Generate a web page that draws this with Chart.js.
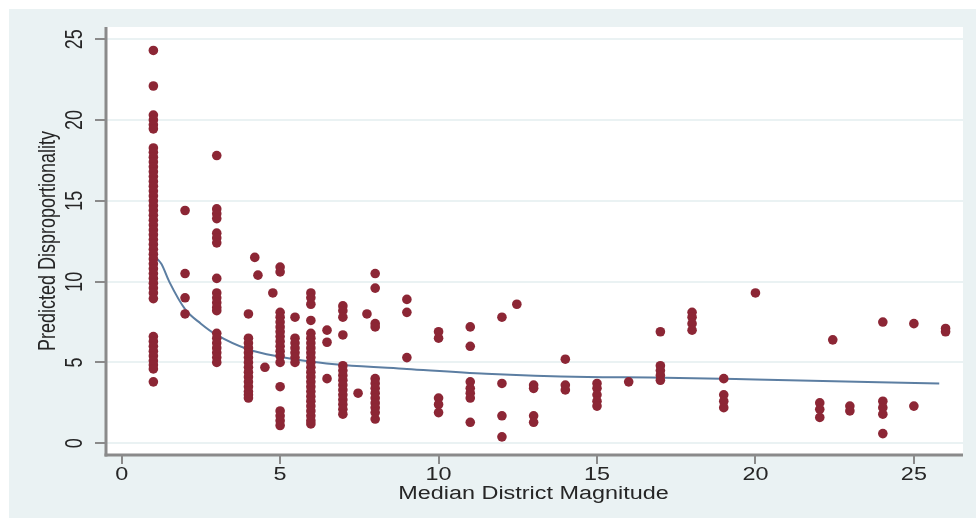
<!DOCTYPE html>
<html>
<head>
<meta charset="utf-8">
<script src="https://cdn.jsdelivr.net/npm/chart.js@4.4.1/dist/chart.umd.min.js"></script>
<style>
  html, body { margin: 0; padding: 0; background: #ffffff; }
  #wrap { width: 976px; height: 518px; }
</style>
</head>
<body>
<div id="wrap"><canvas id="c" width="976" height="518"></canvas></div>
<script>
// ---- Data ----
const xTickValues = [0, 5, 10, 15, 20, 25];
const yTickValues = [0, 5, 10, 15, 20, 25];
const xTitle = "Median District Magnitude";
const yTitle = "Predicted Disproportionality";

// Observed points, grouped by median district magnitude
const colX = [1, 2, 3, 4, 4.2, 4.3, 4.52, 4.77, 5, 5.47, 5.97, 6.48, 6.98, 7.46, 7.74, 8, 9, 10, 11, 12, 12.47, 13, 14, 15, 16, 17, 18, 19, 20, 22.03, 22.44, 22.98, 24.02, 25, 26];
const colY = [
  [24.3, 22.1, 20.3, 20.0, 19.7, 19.45, 18.27, 18.0, 17.7, 17.4, 17.1, 16.8, 16.5, 16.2, 15.9, 15.6, 15.3, 15.0, 14.7, 14.4, 14.1, 13.8, 13.5, 13.2, 12.9, 12.6, 12.3, 12.0, 11.7, 11.4, 11.1, 10.8, 10.5, 10.2, 9.9, 9.6, 9.3, 8.95, 6.6, 6.3, 6.0, 5.7, 5.4, 5.1, 4.85, 4.6, 3.8],
  [14.4, 10.5, 9.0, 8.0],
  [17.8, 14.5, 14.2, 13.9, 13.0, 12.7, 12.4, 10.2, 9.3, 9.0, 8.7, 8.4, 8.2, 6.8, 6.5, 6.2, 5.9, 5.6, 5.3, 5.0],
  [8.0, 6.5, 6.2, 5.9, 5.6, 5.3, 5.0, 4.7, 4.4, 4.1, 3.8, 3.5, 3.2, 3.0, 2.8],
  [11.5],
  [10.4],
  [4.7],
  [9.3],
  [10.9, 10.6, 8.1, 7.8, 7.5, 7.2, 6.9, 6.6, 6.3, 6.0, 5.7, 5.4, 5.0, 3.5, 2.0, 1.7, 1.4, 1.1],
  [7.8, 6.5, 6.2, 5.9, 5.6, 5.3, 5.0],
  [9.3, 9.0, 8.6, 7.6, 6.8, 6.5, 6.2, 5.9, 5.6, 5.3, 5.0, 4.7, 4.4, 4.1, 3.8, 3.5, 3.2, 2.9, 2.6, 2.3, 2.0, 1.7, 1.4, 1.2],
  [7.0, 6.25, 4.0],
  [8.5, 8.2, 7.8, 6.7, 4.8, 4.5, 4.2, 3.9, 3.6, 3.3, 3.0, 2.7, 2.4, 2.1, 1.8],
  [3.1],
  [8.0],
  [10.5, 9.6, 7.4, 7.2, 4.0, 3.7, 3.4, 3.1, 2.8, 2.5, 2.2, 1.9, 1.5],
  [8.9, 8.1, 5.3],
  [6.9, 6.5, 2.8, 2.4, 1.9],
  [7.2, 6.0, 3.8, 3.4, 3.1, 2.8, 1.3],
  [7.8, 3.7, 1.7, 0.4],
  [8.6],
  [3.6, 3.4, 1.7, 1.3],
  [5.2, 3.6, 3.3],
  [3.7, 3.4, 3.0, 2.6, 2.3],
  [3.8],
  [6.9, 4.8, 4.5, 4.2, 3.9],
  [8.1, 7.8, 7.4, 7.0],
  [4.0, 3.0, 2.6, 2.2],
  [9.3],
  [2.5, 2.1, 1.6],
  [6.4],
  [2.3, 2.0],
  [7.5, 2.6, 2.2, 1.8, 0.6],
  [7.4, 2.3],
  [7.1, 6.9]
];

// Fitted curve
const fitX = [1, 1.25, 1.5, 2, 2.5, 3, 4, 5, 6, 7, 9, 11.5, 14.7, 16.7, 20, 25.8];
const fitY = [11.6, 11.1, 10.0, 8.3, 7.4, 6.7, 5.8, 5.35, 5.05, 4.85, 4.6, 4.3, 4.1, 4.07, 3.95, 3.7];

// ---- Build library data from the arrays ----
const scatterPts = [];
colX.forEach((x, i) => colY[i].forEach(y => scatterPts.push({ x: x, y: y })));
const fitPts = fitX.map((x, i) => ({ x: x, y: fitY[i] }));

const BG = '#EAF2F3';
const AXIS = '#8a8a8a';
const TEXT = '#262626';
const FONT = '18px "Liberation Sans", Arial, sans-serif';
const STRETCH = 1.3;

const decor = {
  id: 'decor',
  beforeDraw(chart) {
    const ctx = chart.ctx, a = chart.chartArea;
    ctx.save();
    ctx.fillStyle = '#ffffff';
    ctx.fillRect(0, 0, chart.width, chart.height);
    ctx.fillStyle = BG;
    ctx.fillRect(9, 9, chart.width - 9, chart.height - 9);
    ctx.fillStyle = '#ffffff';
    ctx.fillRect(a.left, a.top, a.right - a.left, a.bottom - a.top);
    // horizontal grid lines
    const ys = chart.scales.y;
    ctx.strokeStyle = BG;
    ctx.lineWidth = 2;
    yTickValues.forEach(v => {
      const p = Math.round(ys.getPixelForValue(v));
      ctx.beginPath(); ctx.moveTo(a.left, p); ctx.lineTo(a.right, p); ctx.stroke();
    });
    ctx.restore();
  },
  beforeDatasetsDraw(chart) {
    const ctx = chart.ctx, a = chart.chartArea;
    const ys = chart.scales.y, xs = chart.scales.x;
    ctx.save();
    ctx.strokeStyle = AXIS;
    // axis lines
    ctx.lineWidth = 3;
    ctx.beginPath(); ctx.moveTo(a.left, a.top); ctx.lineTo(a.left, a.bottom + 1.5); ctx.stroke();
    ctx.beginPath(); ctx.moveTo(a.left - 1.5, a.bottom); ctx.lineTo(a.right, a.bottom); ctx.stroke();
    // tick marks
    ctx.lineWidth = 2;
    yTickValues.forEach(v => {
      const p = Math.round(ys.getPixelForValue(v));
      ctx.beginPath(); ctx.moveTo(a.left - 11, p); ctx.lineTo(a.left, p); ctx.stroke();
    });
    xTickValues.forEach(v => {
      const p = Math.round(xs.getPixelForValue(v));
      ctx.beginPath(); ctx.moveTo(p, a.bottom); ctx.lineTo(p, a.bottom + 9); ctx.stroke();
    });
    // labels
    ctx.fillStyle = TEXT;
    ctx.font = FONT;
    ctx.textAlign = 'center';
    ctx.textBaseline = 'middle';
    xTickValues.forEach(v => {
      const p = xs.getPixelForValue(v);
      ctx.save(); ctx.translate(p, 475); ctx.scale(STRETCH, 1); ctx.fillText(String(v), 0, 0); ctx.restore();
    });
    ctx.save(); ctx.translate((a.left + a.right) / 2 - 1, 494); ctx.scale(STRETCH, 1); ctx.fillText(xTitle, 0, 0); ctx.restore();
    yTickValues.forEach(v => {
      const p = ys.getPixelForValue(v);
      ctx.save(); ctx.translate(76, p); ctx.scale(STRETCH, 1); ctx.rotate(-Math.PI / 2); ctx.fillText(String(v), 0, 0); ctx.restore();
    });
    ctx.save(); ctx.translate(49, (a.top + a.bottom) / 2); ctx.scale(STRETCH, 1); ctx.rotate(-Math.PI / 2); ctx.fillText(yTitle, 0, 0); ctx.restore();
    ctx.restore();
  }
};

new Chart(document.getElementById('c'), {
  type: 'scatter',
  data: {
    datasets: [
      {
        label: 'Observed',
        data: scatterPts,
        backgroundColor: '#8C2635',
        borderWidth: 0,
        pointRadius: 4.8,
        pointHoverRadius: 4.8,
        showLine: false
      },
      {
        label: 'Fitted',
        data: fitPts,
        showLine: true,
        borderColor: '#5c7ea2',
        borderWidth: 2,
        pointRadius: 0,
        cubicInterpolationMode: 'monotone',
        fill: false
      }
    ]
  },
  options: {
    responsive: false,
    animation: false,
    devicePixelRatio: 1,
    events: [],
    layout: { padding: { left: 0, top: 27, right: 13, bottom: 0 } },
    plugins: { legend: { display: false }, tooltip: { enabled: false }, title: { display: false } },
    scales: {
      x: {
        type: 'linear',
        min: -0.495,
        max: 26.55,
        grid: { display: false },
        border: { display: false },
        ticks: { display: false },
        afterFit(s) { s.height = 63; }
      },
      y: {
        type: 'linear',
        min: -0.724,
        max: 25.75,
        grid: { display: false },
        border: { display: false },
        ticks: { display: false },
        afterFit(s) { s.width = 106; }
      }
    }
  },
  plugins: [decor]
});
</script>
</body>
</html>
